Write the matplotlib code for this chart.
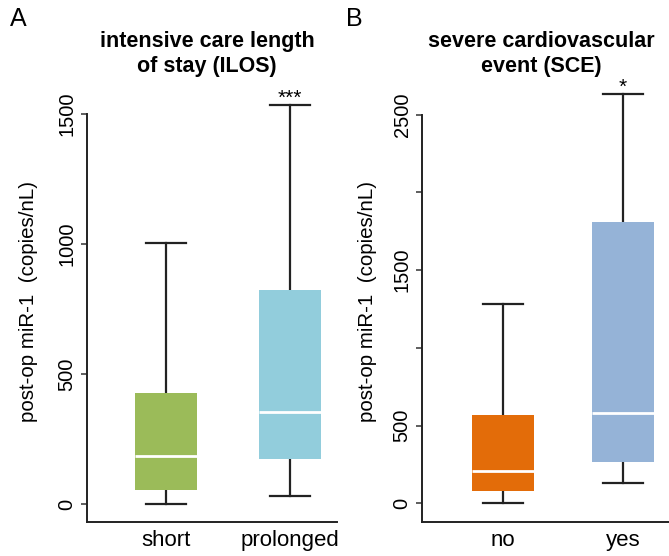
import matplotlib
matplotlib.use("Agg")
import matplotlib.pyplot as plt

plt.rcParams["font.family"] = ["Liberation Sans", "DejaVu Sans"]

# box summaries (copies/nL): whisker low, Q1, median, Q3, whisker high
ilos_groups = ["short", "prolonged"]
ilos_low = [0, 32]
ilos_q1 = [53, 173]
ilos_med = [185, 353]
ilos_q3 = [426, 823]
ilos_high = [1005, 1535]
ilos_colors = ["#9BBB59", "#92CDDC"]

sce_groups = ["no", "yes"]
sce_low = [0, 130]
sce_q1 = [82, 265]
sce_med = [209, 580]
sce_q3 = [569, 1809]
sce_high = [1282, 2632]
sce_colors = ["#E36C09", "#95B3D7"]

ilos_ticks = [0, 500, 1000, 1500]
ilos_ticklabels = ["0", "500", "1000", "1500"]
sce_ticks = [0, 500, 1000, 1500, 2000, 2500]
sce_ticklabels = ["0", "500", "", "1500", "", "2500"]

W, H = 669, 556
fig = plt.figure(figsize=(W / 100, H / 100), dpi=100)


def panel(rect, groups, low, q1, med, q3, high, colors, ticks, ticklabels,
          ylim, xlim, width, stars, ylab_x):
    ax = fig.add_axes(rect)
    stats = []
    for g, a, b, c, d, e in zip(groups, low, q1, med, q3, high):
        stats.append(dict(label=g, whislo=a, q1=b, med=c, q3=d, whishi=e, fliers=[]))
    bp = ax.bxp(stats, positions=[1, 2], widths=width, capwidths=width * 0.65,
                patch_artist=True, showfliers=False,
                boxprops=dict(linewidth=0),
                medianprops=dict(color="white", linewidth=2),
                whiskerprops=dict(color="#222222", linewidth=1.6),
                capprops=dict(color="#222222", linewidth=1.6))
    for patch, col in zip(bp["boxes"], colors):
        patch.set_facecolor(col)
        patch.set_edgecolor(col)
    for w in bp["whiskers"]:
        w.set_zorder(1)
    ax.set_xlim(*xlim)
    ax.set_ylim(*ylim)
    ax.set_yticks(ticks)
    ax.set_yticklabels(ticklabels, rotation=90, va="center", fontsize=14.5)
    ax.set_xticks([1, 2])
    ax.set_xticklabels(groups, fontsize=16)
    ax.tick_params(axis="x", length=0, pad=6)
    ax.tick_params(axis="y", length=4.5, width=1.1, color="#333333", pad=3)
    for s in ["top", "right"]:
        ax.spines[s].set_visible(False)
    for s in ["left", "bottom"]:
        ax.spines[s].set_linewidth(1.4)
        ax.spines[s].set_color("#222222")
    ax.spines["left"].set_bounds(ylim[0], ticks[-1])
    ax.set_ylabel("post-op miR-1  (copies/nL)", fontsize=14.8)
    ax.yaxis.set_label_coords(ylab_x, 0.5)
    # significance stars just above the upper whisker of the second group
    ax.annotate(stars, xy=(2, high[1]), xytext=(0, 1), textcoords="offset points",
                ha="center", va="baseline", fontsize=15)
    return ax


panel([87 / W, 34 / H, 250 / W, 442 / H], ilos_groups, ilos_low, ilos_q1,
      ilos_med, ilos_q3, ilos_high, ilos_colors, ilos_ticks, ilos_ticklabels,
      (-69, 1631), (0.363, 2.379), 0.5, "***", (38 - 87) / 250)
panel([422 / W, 34 / H, 247 / W, 442 / H], sce_groups, sce_low, sce_q1,
      sce_med, sce_q3, sce_high, sce_colors, sce_ticks, sce_ticklabels,
      (-119, 2722), (0.325, 2.383), 0.517, "*", (377 - 422) / 247)

fig.text(207 / W, 1 - 54 / H, "intensive care length\nof stay (ILOS)",
         ha="center", va="center", fontsize=15.5, fontweight="bold", linespacing=1.3)
fig.text(541 / W, 1 - 54 / H, "severe cardiovascular\nevent (SCE)",
         ha="center", va="center", fontsize=15.5, fontweight="bold", linespacing=1.3)
fig.text(10 / W, 1 - 19 / H, "A", fontsize=18, va="center", ha="left")
fig.text(346 / W, 1 - 19 / H, "B", fontsize=18, va="center", ha="left")

fig.savefig("out.png", dpi=100)
